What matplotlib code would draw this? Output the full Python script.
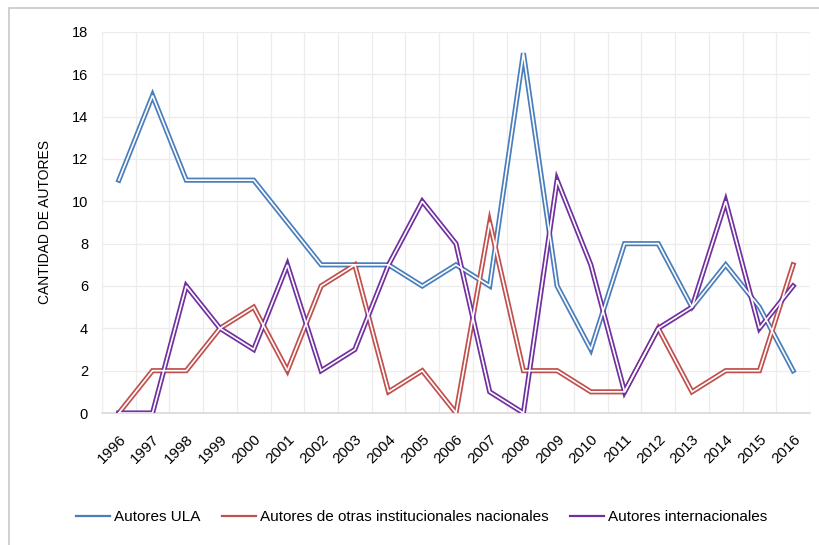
import matplotlib
matplotlib.use("Agg")
from matplotlib import pyplot as plt
from matplotlib.patches import Rectangle
import numpy as np

plt.rcParams['font.family'] = ['Liberation Sans Narrow', 'Liberation Sans', 'DejaVu Sans']

years = [str(y) for y in range(1996, 2017)]
autores_ula = [11, 15, 11, 11, 11, 9, 7, 7, 7, 6, 7, 6, 17, 6, 3, 8, 8, 5, 7, 5, 2]
autores_nac = [0, 2, 2, 4, 5, 2, 6, 7, 1, 2, 0, 9, 2, 2, 1, 1, 4, 1, 2, 2, 7]
autores_int = [0, 0, 6, 4, 3, 7, 2, 3, 7, 10, 8, 1, 0, 11, 7, 1, 4, 5, 10, 4, 6]

series = [
    ("Autores ULA", autores_ula, "#4a7ebb"),
    ("Autores de otras institucionales nacionales", autores_nac, "#c0504d"),
    ("Autores internacionales", autores_int, "#7030a0"),
]

fig = plt.figure(figsize=(8.19, 5.45), dpi=100)
ax = fig.add_axes([0.1245, 0.2422, 0.8645, 0.6991])

x = np.arange(len(years))
for name, vals, col in series:
    # doble linea estilo Excel: linea gruesa de color + linea blanca fina encima
    ax.plot(x, vals, color=col, lw=3.7, solid_joinstyle='miter', label=name, zorder=3)
    ax.plot(x, vals, color="white", lw=1.2, solid_joinstyle='miter', zorder=4)

ax.set_xlim(-0.5, len(years) - 0.5)
ax.set_ylim(0, 18)
ax.set_yticks(range(0, 19, 2))
ax.set_xticks(x)
ax.set_xticklabels(years, rotation=45, ha='right', rotation_mode='anchor', fontsize=11)
ax.tick_params(axis='y', labelsize=10.5, length=0, pad=10)
ax.tick_params(axis='x', length=0, pad=14)

# rejilla
ax.set_xticks(np.arange(-0.5, len(years), 1), minor=True)
ax.grid(True, which='minor', axis='x', color='#ececec', lw=0.9)
ax.grid(True, which='major', axis='y', color='#ececec', lw=0.9)
ax.tick_params(which='minor', length=0)
for s in ['top', 'right', 'left']:
    ax.spines[s].set_visible(False)
ax.spines['bottom'].set_color('#d9d9d9')
ax.spines['bottom'].set_linewidth(1.2)
ax.set_axisbelow(True)

ax.set_ylabel("CANTIDAD DE AUTORES", fontsize=10, labelpad=14)

handles = [plt.Line2D([], [], color=c, lw=1.6) for _, _, c in series]
fig.legend(handles, [n for n, _, _ in series], loc='center', bbox_to_anchor=(0.515, 0.051),
           ncol=3, frameon=False, fontsize=11, handlelength=2.2, columnspacing=1.4,
           handletextpad=0.3)

# marco del grafico
fig.patches.append(Rectangle((9 / 819, -0.05), 1.0, 1.05 - 8 / 545, transform=fig.transFigure,
                             fill=False, edgecolor='#c8c8c8', lw=1.2))

fig.savefig("out.png", dpi=100)
